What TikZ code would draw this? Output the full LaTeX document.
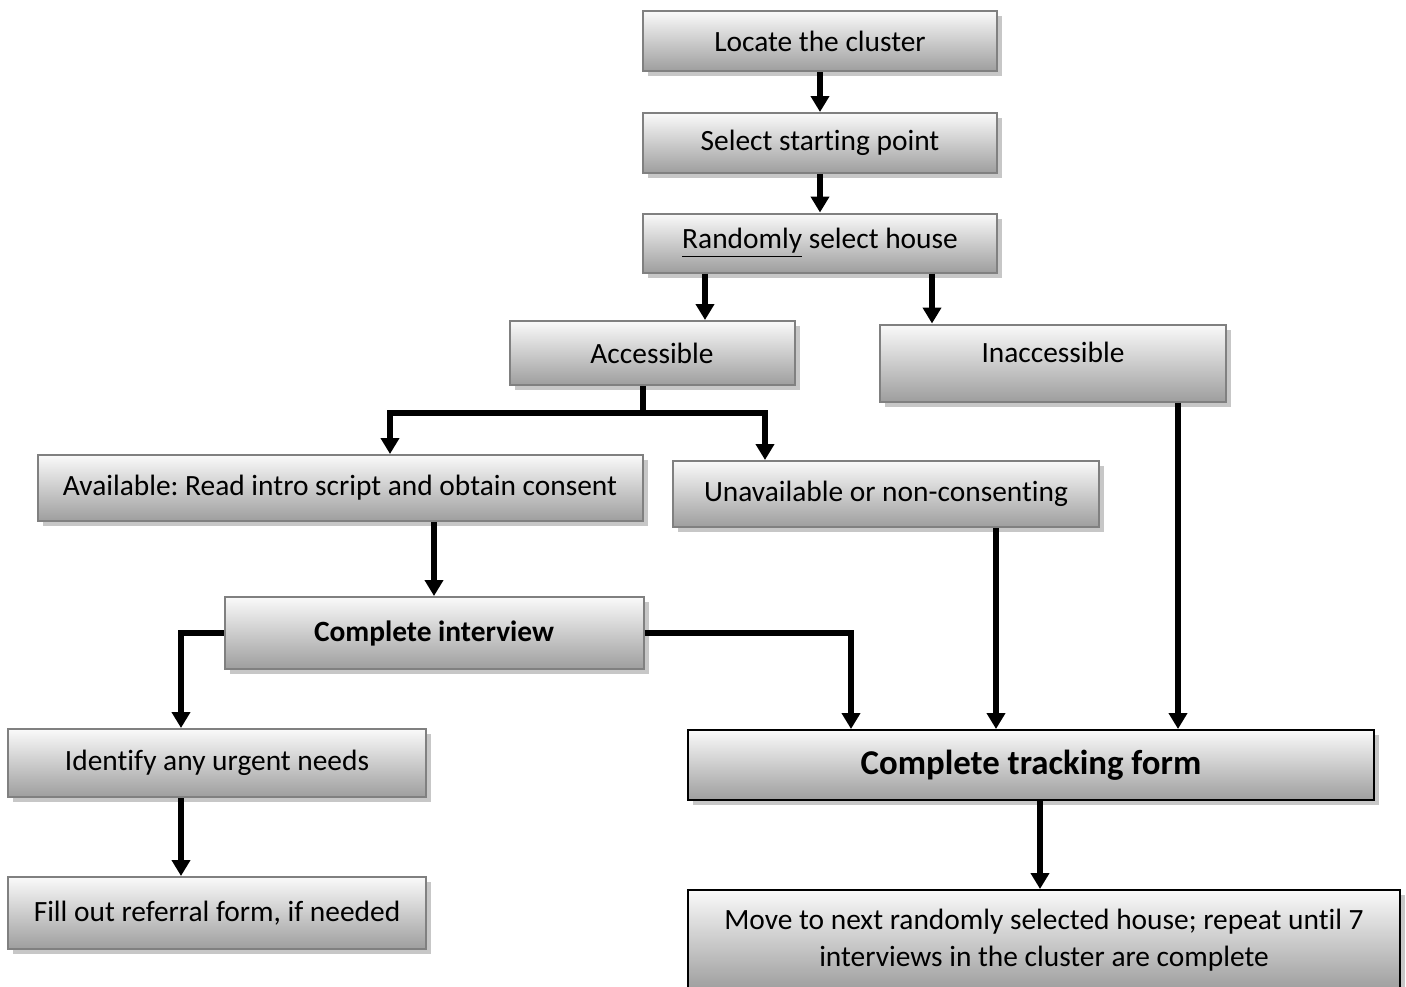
\documentclass[tikz,border=0pt]{standalone}
\usepackage{fontspec}
\setmainfont{Carlito}[Ligatures=NoCommon]
\frenchspacing
\usetikzlibrary{arrows.meta,shadows}
\tikzset{
  stage/.style={draw=black!50,line width=1pt,top color=black!2,bottom color=black!38,
    drop shadow={shadow xshift=2.5pt,shadow yshift=-2.5pt,fill=black!22,opacity=1},
    inner sep=0pt,align=center,font=\fontsize{14.7}{18.5}\selectfont},
  keystage/.style={stage,draw=black},
  flow/.style={line width=3pt,-{Triangle[width=9pt,length=8pt]}},
  link/.style={line width=3pt}
}
\begin{document}
\begin{tikzpicture}[x=0.5pt,y=-0.5pt]
\useasboundingbox (0,0) rectangle (1406,986);
\node[stage,minimum width=177pt,minimum height=30pt] (loc) at (820,41) {Locate the cluster};
\node[stage,minimum width=177pt,minimum height=30pt] (sel) at (820,143) {Select starting point};
\node[stage,minimum width=177pt,minimum height=29.5pt] (rand) at (820,243) {\underline{Randomly} select house};
\node[stage,minimum width=142.5pt,minimum height=32pt] (acc) at (652,353) {Accessible};
\node[stage,minimum width=173pt,minimum height=38.5pt,text depth=11pt] (inacc) at (1053,363) {Inaccessible};
\node[stage,minimum width=302.5pt,minimum height=33pt] (avail) at (340,488) {Available: Read intro script and obtain consent};
\node[stage,minimum width=213pt,minimum height=33pt] (unav) at (886,494) {Unavailable or non-consenting};
\node[stage,minimum width=209.5pt,minimum height=36pt,font=\fontsize{14.7}{18}\selectfont\bfseries] (intv) at (434,633) {Complete interview};
\node[stage,minimum width=209pt,minimum height=34pt] (urg) at (217,763) {Identify any urgent needs};
\node[stage,minimum width=209pt,minimum height=36pt] (refer) at (217,913) {Fill out referral form, if needed};
\node[keystage,minimum width=343pt,minimum height=35pt,font=\fontsize{17.4}{21}\selectfont\bfseries] (track) at (1031,765) {Complete tracking form};
\node[keystage,minimum width=356pt,minimum height=50pt] (move) at (1044,940) {Move to next randomly selected house; repeat until 7\\interviews in the cluster are complete};
\coordinate (accsplit) at (643,413);
\draw[flow] (loc) -- (sel);
\draw[flow] (sel) -- (rand);
\draw[flow] (rand.south -| 705,0) -- (acc.north -| 705,0);
\draw[flow] (rand.south -| 932,0) -- (inacc.north -| 932,0);
\draw[link] (acc.south -| accsplit) -- (accsplit);
\draw[flow] (accsplit) -| (avail.north -| 390,0);
\draw[flow] (accsplit) -| (unav.north -| 765,0);
\draw[flow] (avail.south -| intv) -- (intv);
\draw[flow] (intv.west) -| (urg.north -| 181,0);
\draw[flow] (intv.east) -| (track.north -| 851,0);
\draw[flow] (unav.south -| 996,0) -- (track.north -| 996,0);
\draw[flow] (inacc.south -| 1178,0) -- (track.north -| 1178,0);
\draw[flow] (urg.south -| 181,0) -- (refer.north -| 181,0);
\draw[flow] (track.south -| 1040,0) -- (move.north -| 1040,0);
\end{tikzpicture}
\end{document}
